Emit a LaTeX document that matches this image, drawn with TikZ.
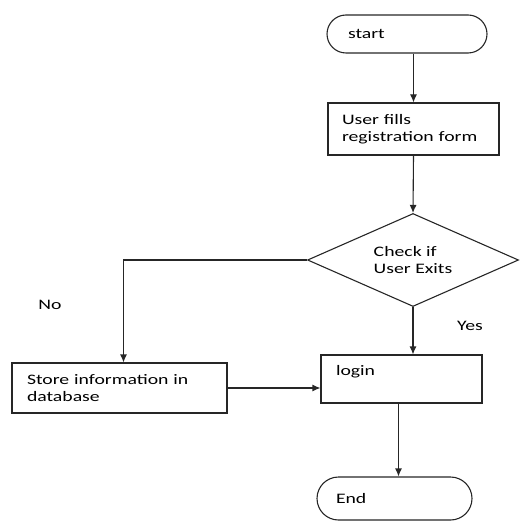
\documentclass[tikz,border=0pt]{standalone}
\usepackage{fontspec}
\setmainfont{Carlito}[FakeStretch=1.36]
\usepackage{tikz}
\usetikzlibrary{shapes.geometric,arrows.meta,calc}
\tikzset{
LINK/.style ={draw=black!85,line width=1.1pt,-{Latex[length=8pt,width=7pt]}},
BOX/.style ={draw=black!85,line width=1.1pt,rectangle,align=left,inner ysep=3pt,font=\fontsize{14.5}{17}\selectfont},
TERM/.style ={BOX,rounded corners=#1},
DECIDE/.style={draw=black!85,line width=1.1pt,shape=diamond,aspect=2.27,inner sep=0pt,
	minimum width=211pt,minimum height=93pt,align=left,font=\fontsize{14.5}{17.5}\selectfont},
TAG/.style ={font=\fontsize{14.5}{17}\selectfont},
}

\begin{document}
\begin{tikzpicture}[x=1pt,y=-1pt]
	\useasboundingbox (0,0) rectangle (519,521);
	%Terminals
	\node[TERM=19pt,minimum width=160pt,minimum height=38pt,text width=118pt,inner xsep=21pt] (start) at (407,34) {start};
	\node[TERM=21.5pt,minimum width=155pt,minimum height=43pt,text width=117pt,inner xsep=19pt] (stop) at (394.5,498.5) {End};
	%Steps
	\node[BOX,minimum height=52pt,text width=143pt,inner xsep=14pt] (fill) at (413.5,129) {User fills\\registration form};
	\node[DECIDE] (check) at (413,260) {Check if\\User Exits};
	\node[BOX,minimum height=50pt,text width=185pt,inner xsep=15pt] (store) at (119.5,388) {Store information in\\database};
	\node[BOX,text width=131pt,inner xsep=15pt,inner ysep=8pt,text height=12pt,text depth=20pt] (login) at (401.5,379) {login};
	%Answers
	\node[TAG] (no) at (50,305) {No};
	\node[TAG] (yes) at (470,326) {Yes};
	%Links
	\draw[LINK] (start.south -| fill.north) -- (fill.north);
	\draw[LINK] (fill.south) -- (check.north);
	\draw[LINK] (check.south) -- (check.south |- login.north);
	\draw[LINK] (check.west) -| ($(store.north)+(4,0)$);
	\draw[LINK] (store.east) -- (store.east -| login.west);
	\draw[LINK] ($(login.south)+(-3,0)$) -- ($(login.south |- stop.north)+(-3,0)$);
\end{tikzpicture}
\end{document}
